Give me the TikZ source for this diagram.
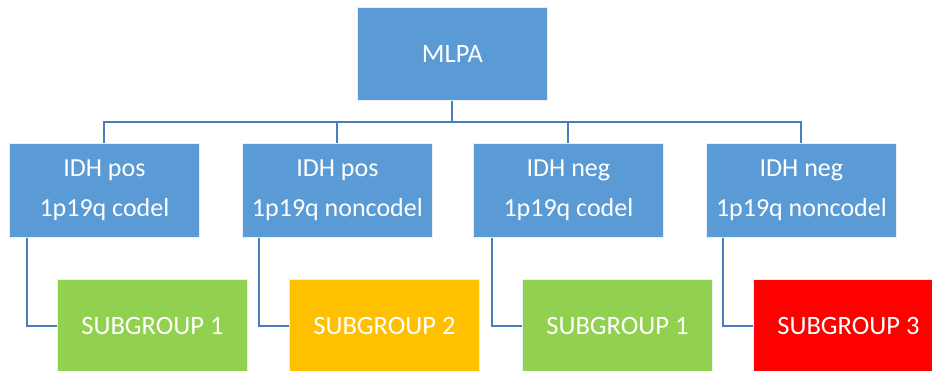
\documentclass[tikz,border=0pt]{standalone}
\usepackage{fontspec}
\setmainfont{Carlito}
\definecolor{boxblue}{HTML}{5B9BD5}
\definecolor{linkblue}{HTML}{4A7EBB}
\definecolor{sgreen}{HTML}{92D050}
\definecolor{sorange}{HTML}{FFC000}
\definecolor{sred}{HTML}{FF0000}
\begin{document}
\begin{tikzpicture}[x=1pt,y=-1pt,
  base/.style={draw=white!85!boxblue,line width=0.8pt,minimum width=190pt,
    text=white,inner sep=0pt,anchor=north west},
  topbox/.style={base,fill=boxblue,minimum height=93pt,font=\fontsize{26.5}{32}\selectfont},
  midbox/.style={base,fill=boxblue,minimum height=94pt,align=center,
    font=\fontsize{26}{40}\selectfont},
  subbox/.style={base,minimum height=94pt,font=\fontsize{26.5}{30}\selectfont},
  link/.style={draw=linkblue,line width=2pt}]
\useasboundingbox (0,0) rectangle (932,371);
\clip (0,0) rectangle (932,371);
% root
\node[topbox] (root) at (357,7) {MLPA};
% second level
\node[midbox] (a) at (9,143)   {IDH pos\\1p19q codel};
\node[midbox] (b) at (242,143) {IDH pos\\1p19q noncodel};
\node[midbox] (c) at (473,143) {IDH neg\\1p19q codel};
\node[midbox] (d) at (706,143) {IDH neg\\1p19q noncodel};
% subgroups
\node[subbox,fill=sgreen]  (sa) at (57,279)  {SUBGROUP 1};
\node[subbox,fill=sorange] (sb) at (289,279) {SUBGROUP 2};
\node[subbox,fill=sgreen]  (sc) at (522,279) {SUBGROUP 1};
\node[subbox,fill=sred]    (sd) at (753,279) {SUBGROUP 3};
% tree connectors
\coordinate (bus) at (0,122);
\draw[link] (root.south) -- (root.south |- bus);
\draw[link] (a.north) -- (a.north |- bus) -- (d.north |- bus) -- (d.north);
\draw[link] (b.north) -- (b.north |- bus);
\draw[link] (c.north) -- (c.north |- bus);
% elbow connectors to subgroups
\foreach \p/\s/\dx in {a/sa/18,b/sb/17,c/sc/19,d/sd/17}{
  \draw[link] ([xshift=\dx pt]\p.south west) |- (\s.west);
}
\end{tikzpicture}
\end{document}
